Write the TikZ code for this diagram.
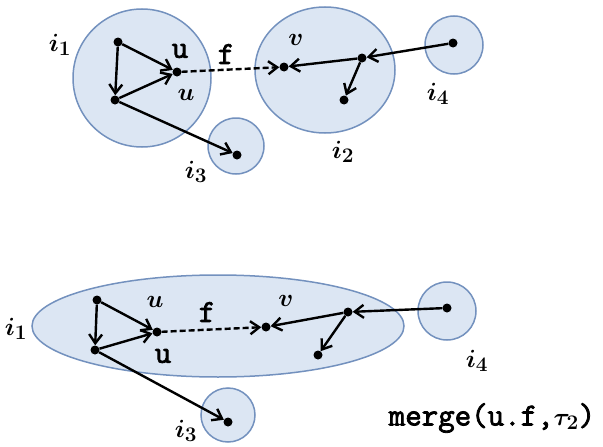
\documentclass[tikz,border=0pt]{standalone}
\usepackage{fontspec}
\newfontfamily\codefont{Latin Modern Mono}[FakeBold=2.5]
\usetikzlibrary{arrows.meta,shapes.geometric}

\begin{document}
\begin{tikzpicture}[x=1pt,y=-1pt,
  region/.style={draw={rgb,255:red,115;green,145;blue,190},
    fill={rgb,255:red,220;green,230;blue,243},line width=1.5pt,inner sep=0pt},
  dot/.style={circle,fill=black,inner sep=0pt,minimum size=9pt},
  lbl/.style={font=\boldmath\fontsize{29}{31}\selectfont,inner sep=0pt},
  code/.style={font=\codefont\fontsize{32}{34}\selectfont,inner sep=0pt},
  edge/.style={line width=2.4pt,-{Straight Barb[length=9pt,width=13pt,line width=2.4pt]}}]
  \useasboundingbox (0,0) rectangle (603,447);
  % --- before the merge ---
  \node[region,circle,minimum size=138pt] (r1) at (142,78) {};
  \node[region,circle,minimum size=56pt] (r3) at (236,146) {};
  \node[region,ellipse,minimum width=140pt,minimum height=126pt] (r2) at (325,70) {};
  \node[region,circle,minimum size=58pt] (r4) at (454,45) {};
  \node[dot] (a1) at (118,42) {};
  \node[dot] (b1) at (115,100) {};
  \node[dot] (u1) at (177,72) {};
  \node[dot] (c1) at (237,155) {};
  \node[dot] (v1) at (284,67) {};
  \node[dot] (w1) at (362,58) {};
  \node[dot] (x1) at (344,100) {};
  \node[dot] (d1) at (453,43) {};
  \draw[edge] (a1) -- (b1);
  \draw[edge] (a1) -- (u1);
  \draw[edge] (b1) -- (u1);
  \draw[edge] (b1) -- (c1);
  \draw[edge,dash pattern=on 6pt off 3pt] (u1) -- (v1);
  \draw[edge] (d1) -- (w1);
  \draw[edge] (w1) -- (v1);
  \draw[edge] (w1) -- (x1);
  \node[lbl] (li1) at (60,45) {$i_1$};
  \node[code] (lu1) at (180,51) {u};
  \node[lbl] (lus1) at (186,95) {$u$};
  \node[code] (lf1) at (226,54) {f};
  \node[lbl] (li3) at (196,172) {$i_3$};
  \node[lbl] (lv1) at (296,40) {$v$};
  \node[lbl] (li2) at (343,152) {$i_2$};
  \node[lbl] (li4) at (438,94) {$i_4$};
  % --- after the merge ---
  \node[region,ellipse,minimum width=372pt,minimum height=102pt] (m) at (218,326) {};
  \node[region,circle,minimum size=54pt] (s3) at (228,415) {};
  \node[region,circle,minimum size=58pt] (s4) at (447,311) {};
  \node[dot] (a2) at (97,300) {};
  \node[dot] (b2) at (95,350) {};
  \node[dot] (u2) at (157,332) {};
  \node[dot] (c2) at (228,422) {};
  \node[dot] (v2) at (266,327) {};
  \node[dot] (w2) at (348,312) {};
  \node[dot] (x2) at (318,355) {};
  \node[dot] (d2) at (447,308) {};
  \draw[edge] (a2) -- (b2);
  \draw[edge] (a2) -- (u2);
  \draw[edge] (b2) -- (u2);
  \draw[edge] (b2) -- (c2);
  \draw[edge,dash pattern=on 6pt off 3pt] (u2) -- (v2);
  \draw[edge] (d2) -- (w2);
  \draw[edge] (w2) -- (v2);
  \draw[edge] (w2) -- (x2);
  \node[lbl] (mi1) at (16,329) {$i_1$};
  \node[lbl] (mus) at (155,302) {$u$};
  \node[code] (mf) at (207,312) {f};
  \node[lbl] (mv) at (286,301) {$v$};
  \node[code] (mu) at (163,356) {u};
  \node[lbl] (mi3) at (186,431) {$i_3$};
  \node[lbl] (mi4) at (477,361) {$i_4$};
  \node[code] (op) at (492,418) {merge(u.f,{\boldmath$\tau_2$})};
\end{tikzpicture}
\end{document}
